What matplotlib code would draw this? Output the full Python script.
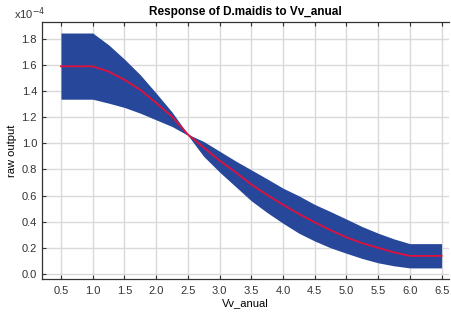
import matplotlib
matplotlib.use("Agg")
import matplotlib.pyplot as plt

plt.rcParams['font.family'] = ['Liberation Sans', 'DejaVu Sans']

# Data (values in units of 1e-4)
x = [0.5, 1.0, 1.25, 1.5, 1.75, 2.0, 2.25, 2.5, 2.75, 3.0, 3.25, 3.5,
     3.75, 4.0, 4.25, 4.5, 4.75, 5.0, 5.25, 5.5, 5.75, 6.0, 6.5]
upper = [1.845, 1.845, 1.755, 1.645, 1.525, 1.385, 1.24, 1.07, 1.014, 0.94, 0.866, 0.797,
         0.728, 0.657, 0.598, 0.532, 0.477, 0.42, 0.362, 0.312, 0.268, 0.232, 0.232]
mean = [1.59, 1.59, 1.55, 1.487, 1.41, 1.31, 1.205, 1.068, 0.968, 0.868, 0.78, 0.685,
        0.605, 0.53, 0.46, 0.395, 0.335, 0.28, 0.235, 0.2, 0.165, 0.138, 0.138]
lower = [1.338, 1.338, 1.308, 1.275, 1.231, 1.18, 1.129, 1.062, 0.9, 0.78, 0.67, 0.56,
         0.47, 0.388, 0.312, 0.252, 0.2, 0.158, 0.118, 0.085, 0.062, 0.046, 0.046]
xticks = [0.5, 1.0, 1.5, 2.0, 2.5, 3.0, 3.5, 4.0, 4.5, 5.0, 5.5, 6.0, 6.5]
yticks = [0.0, 0.2, 0.4, 0.6, 0.8, 1.0, 1.2, 1.4, 1.6, 1.8]

fig = plt.figure(figsize=(4.51, 3.13), dpi=100)
ax = fig.add_axes([0.093, 0.109, 0.903, 0.821])

ax.fill_between(x, lower, upper, color='#27479a', linewidth=0, zorder=2)
ax.plot(x, mean, color='#e0103c', linewidth=1.3, zorder=3)

ax.set_xlim(0.2, 6.62)
ax.set_ylim(-0.038, 1.93)
ax.set_xticks(xticks)
ax.set_xticklabels([f"{v:.1f}" for v in xticks])
ax.set_yticks(yticks)
ax.set_yticklabels([f"{v:.1f}" for v in yticks])
ax.grid(True, color='#d9d9d9', linewidth=1.0, zorder=0)
ax.set_axisbelow(True)

ax.tick_params(direction='in', length=3, width=0.8, labelsize=8, colors='#333333',
               top=True, right=False)
ax.tick_params(axis='x', pad=5)
for side in ['left', 'bottom', 'top']:
    ax.spines[side].set_color('#333333')
    ax.spines[side].set_linewidth(0.9)
ax.spines['right'].set_visible(False)

ax.set_title('Response of D.maidis to Vv_anual', fontsize=8.5, fontweight='bold', pad=5)
ax.set_xlabel('Vv_anual', fontsize=8, labelpad=2)
ax.set_ylabel('raw output', fontsize=8, labelpad=3)
fig.text(0.03, 0.955, r'x10$^{-4}$', fontsize=8, color='#333333', va='center')

fig.savefig('out.png', dpi=100)
